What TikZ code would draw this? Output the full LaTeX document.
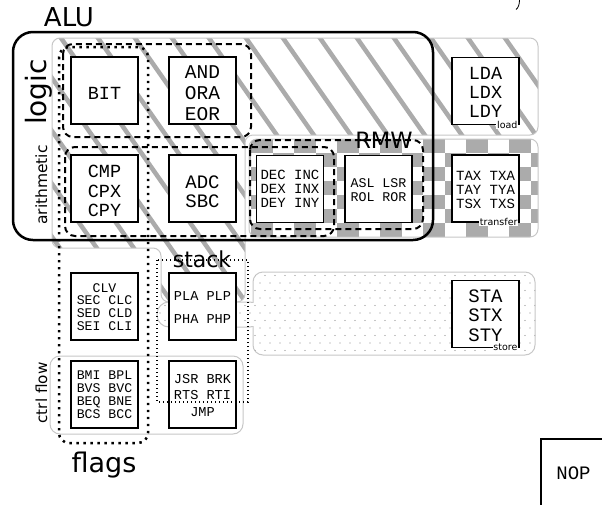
\documentclass[tikz,border=0pt]{standalone}
\usepackage{fontspec}
\setmainfont{DejaVu Sans}
\newfontfamily\boxfont{Liberation Mono}
\newfontfamily\labfont{DejaVu Sans}
\newcommand\opfs[2]{\fontsize{#1}{#2}\selectfont}
\definecolor{patgray}{gray}{0.67}
\definecolor{regline}{gray}{0.78}
\definecolor{dotgray}{gray}{0.55}
\begin{document}
\begin{tikzpicture}[x=1pt,y=-1pt,
  region/.style={draw=regline, line width=1pt},
  opbox/.style={draw=black, line width=1.8pt, fill=white, minimum width=67pt, minimum height=67pt, inner sep=0pt},
  optext/.style={align=center, inner sep=0pt},
  dashgrp/.style={draw=black, line width=2pt, dash pattern=on 6pt off 4pt, rounded corners=10pt},
  dotgrp/.style={draw=black, line width=2.5pt, dash pattern=on 2.4pt off 4.6pt, rounded corners=10pt},
  finedot/.style={draw=black, line width=1.1pt, dash pattern=on 1.1pt off 2.9pt},
  biglab/.style={inner sep=0pt},
  tag/.style={font=\labfont\opfs{9.5}{10}, fill=white, inner sep=0.8pt, anchor=east},
]
\useasboundingbox (0,0) rectangle (602,504);
\fill[white] (0,0) rectangle (602,504);

% hatched region (logic row + arithmetic + stack column)
\begin{scope}
\clip[rounded corners=8pt] (52,38) -- (538,38) -- (538,135) -- (245,135) -- (245,302) -- (161,302) -- (161,248) -- (52,248) -- cycle;
\foreach \k in {-12,...,8} \draw[patgray, line width=4.5pt] ({256.4+37*\k},0) -- ++(230,329);
\end{scope}
\draw[region, rounded corners=8pt] (52,38) -- (538,38) -- (538,135) -- (245,135) -- (245,302) -- (161,302) -- (161,248) -- (52,248) -- cycle;

% checker region (transfer)
\begin{scope}
\clip[rounded corners=8pt] (249,139) rectangle (538,237);
\fill[white] (249,139) rectangle (538,237);
\foreach \i in {0,...,14} {
  \foreach \j in {0,...,6} {
    \pgfmathtruncatemacro{\pp}{mod(\i+\j,2)}
    \ifnum\pp=1 \fill[patgray] ({229.5+21.5*\i},{139+14*\j}) rectangle ++(21.5,14); \fi
  }
}
\end{scope}
\draw[region, rounded corners=8pt] (249,139) rectangle (538,237);

% store region with neck
\draw[region, fill=white, rounded corners=12pt] (157,302) rectangle (262,327);
\draw[region, fill=white, rounded corners=10pt] (253,272) rectangle (535,355);
\fill[white] (252,302.6) rectangle (266,326.4);
\fill[white] (253.6,300) rectangle (266,329);
\begin{scope}
\clip[rounded corners=10pt] (253,272) rectangle (535,355) [rounded corners=12pt] (157,302) rectangle (262,327);
\foreach \j in {0,...,12} {
  \foreach \i in {0,...,40} {
    \fill[dotgray] ({150+10*\i+5*mod(\j,2)},{268+7.5*\j}) circle (0.6);
  }
}
\end{scope}

% ctrl flow region
\draw[region, rounded corners=10pt] (50,356) rectangle (243,434);

% ALU
\draw[line width=2.5pt, rounded corners=20pt] (13,32) rectangle (433,240);

% boxes
\node[opbox] (bit) at (104.5,90.5) {};
\node[opbox] (and) at (202.5,90.5) {};
\node[opbox] (cmp) at (104.5,188.5) {};
\node[opbox] (adc) at (202.5,188.5) {};
\node[opbox] (dec) at (290,189) {};
\node[opbox] (asl) at (378.5,189) {};
\node[opbox] (lda) at (485.5,91) {};
\node[opbox] (tax) at (485.5,188.5) {};
\node[opbox] (clv) at (104.5,306.5) {};
\node[opbox] (pla) at (202.5,306.5) {};
\node[opbox] (bmi) at (104.5,394.5) {};
\node[opbox] (jsr) at (202.5,394.5) {};
\node[opbox] (sta) at (485.5,314) {};
\node[opbox] (nop) at (574.5,472.5) {};

\node[optext, font=\boxfont\opfs{18.5}{19}] (tbit) at (104.5,93) {BIT};
\node[optext, font=\boxfont\opfs{19.5}{20.7}] (tand) at (202.5,93) {AND\\ORA\\EOR};
\node[optext, font=\boxfont\opfs{18.5}{19.5}] (tcmp) at (104.5,191.2) {CMP\\CPX\\CPY};
\node[optext, font=\boxfont\opfs{19}{18.3}] (tadc) at (202.5,191.7) {ADC\\SBC};
\node[optext, font=\boxfont\opfs{14}{14.3}] (tdec) at (290,188.7) {DEC INC\\DEX INX\\DEY INY};
\node[optext, font=\boxfont\opfs{13.3}{13.3}] (tasl) at (378.5,190) {ASL LSR\\ROL ROR};
\node[optext, font=\boxfont\opfs{18.5}{19}] (tlda) at (485.5,92.8) {LDA\\LDX\\LDY};
\node[optext, font=\boxfont\opfs{14}{14}] (ttax) at (485.5,189.5) {TAX TXA\\TAY TYA\\TSX TXS};
\node[optext, font=\boxfont\opfs{13.2}{12.7}] (tclv) at (104.5,306.7) {CLV\\SEC CLC\\SED CLD\\SEI CLI};
\node[optext, font=\boxfont\opfs{13.6}{22.7}] (tpla) at (202.5,307.2) {PLA PLP\\PHA PHP};
\node[optext, font=\boxfont\opfs{13.2}{13}] (tbmi) at (104.5,395.2) {BMI BPL\\BVS BVC\\BEQ BNE\\BCS BCC};
\node[optext, font=\boxfont\opfs{13.6}{16.3}] (tjsr) at (202.5,395.5) {JSR BRK\\RTS RTI\\JMP};
\node[optext, font=\boxfont\opfs{19}{19.5}] (tsta) at (485.5,315.3) {STA\\STX\\STY};
\node[optext, font=\boxfont\opfs{19}{19}] (tnop) at (573.5,473.5) {NOP};

% tags
\node[tag] (tload) at (518.5,125) {load};
\node[tag] (ttrans) at (518.5,221.5) {transfer};
\node[tag] (tstore) at (518.5,347.5) {store};

% groups
\draw[dashgrp] (63,44) rectangle (251,137);
\draw[dashgrp] (65,147) rectangle (334,236);
\draw[dashgrp] (250,140) rectangle (423,229);
\draw[dotgrp] (59,47) rectangle (148,443);
\draw[finedot] (157,260) rectangle (248,402);

% labels
\node[biglab, font=\labfont\opfs{26}{30}, anchor=base] (alu) at (69,26) {ALU};
\node[biglab, font=\labfont\opfs{28}{30}, rotate=90, anchor=base] (logic) at (46,92) {logic};
\node[biglab, font=\labfont\opfs{15.5}{18}, rotate=90, anchor=base] (arith) at (47,185) {arithmetic};
\node[biglab, font=\labfont\opfs{15.2}{18}, rotate=90, anchor=base] (ctrl) at (47,393) {ctrl flow};
\node[biglab, font=\labfont\opfs{27}{30}, anchor=base] (flags) at (104,472) {flags};
\node[biglab, font=\labfont\opfs{22}{25}, anchor=base] (stack) at (202,267) {stack};
\node[biglab, font=\labfont\opfs{22.5}{25}, anchor=base] (rmw) at (384,148) {RMW};

% small mark at top edge
\draw[line width=0.8pt] (519.5,0) .. controls (519.5,5) and (518,8) .. (516,9.5);
\end{tikzpicture}
\end{document}
